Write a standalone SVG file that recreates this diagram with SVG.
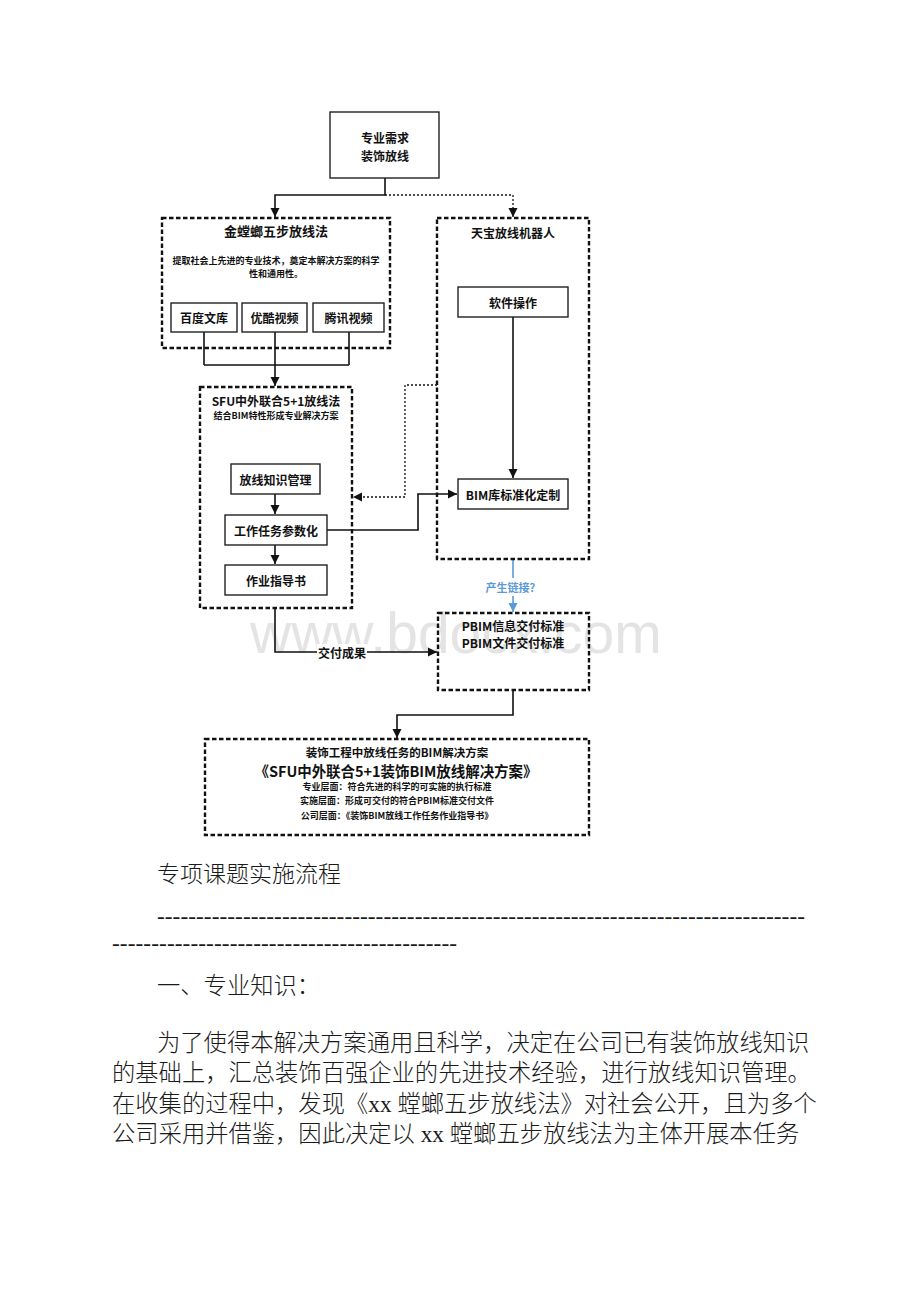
<svg xmlns="http://www.w3.org/2000/svg" width="920" height="1302" viewBox="0 0 920 1302">
<style>
.bg{fill:#ffffff}
.solid{fill:#ffffff;stroke:#222;stroke-width:1.4}
.dash{fill:none;stroke:#111;stroke-width:2.4;stroke-dasharray:4.5 2.5}
.ln{fill:none;stroke:#111;stroke-width:1.6}
.dot{fill:none;stroke:#111;stroke-width:1.3;stroke-dasharray:2 2}
.blue{fill:none;stroke:#5b9bd5;stroke-width:1.6}
.t{font-family:"Noto Sans CJK SC","Liberation Sans",sans-serif;font-weight:700;fill:#111;text-anchor:middle;dominant-baseline:central}
.t12{font-size:12px}
.t13{font-size:13px}
.t9{font-size:9px}
.tb{fill:#5b9bd5;font-size:11px}
.body{font-family:"Liberation Serif","Noto Sans CJK SC",serif;font-size:23.3px;font-weight:300;fill:#1a1a1a}
.wm{font-family:"Liberation Sans",sans-serif;font-size:57px;fill:#e4e4e4}
</style>
<defs>
<marker id="ah" markerUnits="userSpaceOnUse" markerWidth="10" markerHeight="10" refX="9" refY="5" orient="auto"><path d="M0,0.5 L9,5 L0,9.5 z" fill="#111"/></marker>
<marker id="ahb" markerUnits="userSpaceOnUse" markerWidth="10" markerHeight="10" refX="9" refY="5" orient="auto"><path d="M0,0.5 L9,5 L0,9.5 z" fill="#5b9bd5"/></marker>
</defs>
<rect class="bg" x="0" y="0" width="920" height="1302"/>
<text class="wm" x="250" y="653">www.bdocx.com</text>

<g id="connectors">
<path class="ln" d="M385,178 V195 H275 V217" marker-end="url(#ah)"/>
<path class="dot" d="M385,195 H513 V217" marker-end="url(#ah)"/>
<path class="ln" d="M204,332 V365 M349,332 V365 M204,365 H349"/>
<path class="ln" d="M275,332 V386" marker-end="url(#ah)"/>
<path class="ln" d="M513,317 V478" marker-end="url(#ah)"/>
<path class="ln" d="M275,494 V514" marker-end="url(#ah)"/>
<path class="ln" d="M275,545 V564" marker-end="url(#ah)"/>
<path class="ln" d="M327,530 H418 V494 H457" marker-end="url(#ah)"/>
<path class="dot" d="M437,385 H405 V497 H353" marker-end="url(#ah)"/>
<path class="blue" d="M513,560 V612" marker-end="url(#ahb)"/>
<rect x="484" y="578" width="58" height="18" fill="#fff"/>
<text class="t tb" x="513" y="587">产生链接？</text>
<path class="ln" d="M275,608 V652 H437" marker-end="url(#ah)"/>
<rect x="317" y="644" width="50" height="16" fill="#fff"/>
<text class="t t12" x="342" y="652">交付成果</text>
<path class="ln" d="M513,690 V715 H397 V738" marker-end="url(#ah)"/>
</g>

<g id="n-demand">
<rect class="solid" x="330" y="112" width="109" height="66"/>
<text class="t t12" x="385" y="137">专业需求</text>
<text class="t t12" x="385" y="155">装饰放线</text>
</g>

<g id="n-jtl">
<rect class="dash" x="162" y="218" width="228" height="130"/>
<text class="t t13" x="276" y="230">金螳螂五步放线法</text>
<text class="t t9" x="276" y="260">提取社会上先进的专业技术，奠定本解决方案的科学</text>
<text class="t t9" x="276" y="273">性和通用性。</text>
</g>
<g id="n-baidu">
<rect class="solid" x="171" y="303" width="66" height="29"/>
<text class="t t12" x="204" y="317">百度文库</text>
</g>
<g id="n-youku">
<rect class="solid" x="242" y="303" width="65" height="29"/>
<text class="t t12" x="274.5" y="317">优酷视频</text>
</g>
<g id="n-tencent">
<rect class="solid" x="313" y="303" width="71" height="29"/>
<text class="t t12" x="348.5" y="317">腾讯视频</text>
</g>

<g id="n-trimble">
<rect class="dash" x="437" y="218" width="152" height="341"/>
<text class="t t12" x="513" y="232">天宝放线机器人</text>
</g>
<g id="n-software">
<rect class="solid" x="458" y="287" width="110" height="30"/>
<text class="t t12" x="513" y="302">软件操作</text>
</g>
<g id="n-bimlib">
<rect class="solid" x="458" y="479" width="110" height="30"/>
<text class="t t12" x="513" y="494">BIM库标准化定制</text>
</g>

<g id="n-sfu">
<rect class="dash" x="200" y="387" width="152" height="221"/>
<text class="t t12" x="276" y="400">SFU中外联合5+1放线法</text>
<text class="t t9" x="276" y="415">结合BIM特性形成专业解决方案</text>
</g>
<g id="n-knowledge">
<rect class="solid" x="231" y="464" width="89" height="30"/>
<text class="t t12" x="275.5" y="479">放线知识管理</text>
</g>
<g id="n-param">
<rect class="solid" x="225" y="515" width="102" height="30"/>
<text class="t t12" x="276" y="530">工作任务参数化</text>
</g>
<g id="n-guide">
<rect class="solid" x="225" y="565" width="102" height="30"/>
<text class="t t12" x="276" y="580">作业指导书</text>
</g>

<g id="n-pbim">
<rect class="dash" x="438" y="613" width="151" height="77"/>
<text class="t t12" x="513" y="625">PBIM信息交付标准</text>
<text class="t t12" x="513" y="642">PBIM文件交付标准</text>
</g>

<g id="n-solution">
<rect class="dash" x="205" y="739" width="384" height="96"/>
<text class="t" style="font-size:11.5px" x="397" y="752">装饰工程中放线任务的BIM解决方案</text>
<text class="t" style="font-size:14.5px" x="396" y="770" textLength="283" lengthAdjust="spacing">《SFU中外联合5+1装饰BIM放线解决方案》</text>
<text class="t t9" x="397" y="786">专业层面：符合先进的科学的可实施的执行标准</text>
<text class="t t9" x="397" y="800">实施层面：形成可交付的符合PBIM标准交付文件</text>
<text class="t t9" x="397" y="815">公司层面：《装饰BIM放线工作任务作业指导书》</text>
</g>

<g id="body-text">
<text class="body" x="157" y="881.5" style="font-size:23px">专项课题实施流程</text>
<text class="body" x="157" y="923.5" textLength="648" lengthAdjust="spacing">-----------------------------------------------------------------------------------</text>
<text class="body" x="112" y="950.5" textLength="345" lengthAdjust="spacing">--------------------------------------------</text>
<text class="body" x="157" y="993.5">一、专业知识：</text>
<text class="body" x="157" y="1050.5">为了使得本解决方案通用且科学，决定在公司已有装饰放线知识</text>
<text class="body" x="112" y="1081">的基础上，汇总装饰百强企业的先进技术经验，进行放线知识管理。</text>
<text class="body" x="112" y="1111.5">在收集的过程中，发现《xx 螳螂五步放线法》对社会公开，且为多个</text>
<text class="body" x="112" y="1142">公司采用并借鉴，因此决定以 xx 螳螂五步放线法为主体开展本任务</text>
</g>
</svg>
